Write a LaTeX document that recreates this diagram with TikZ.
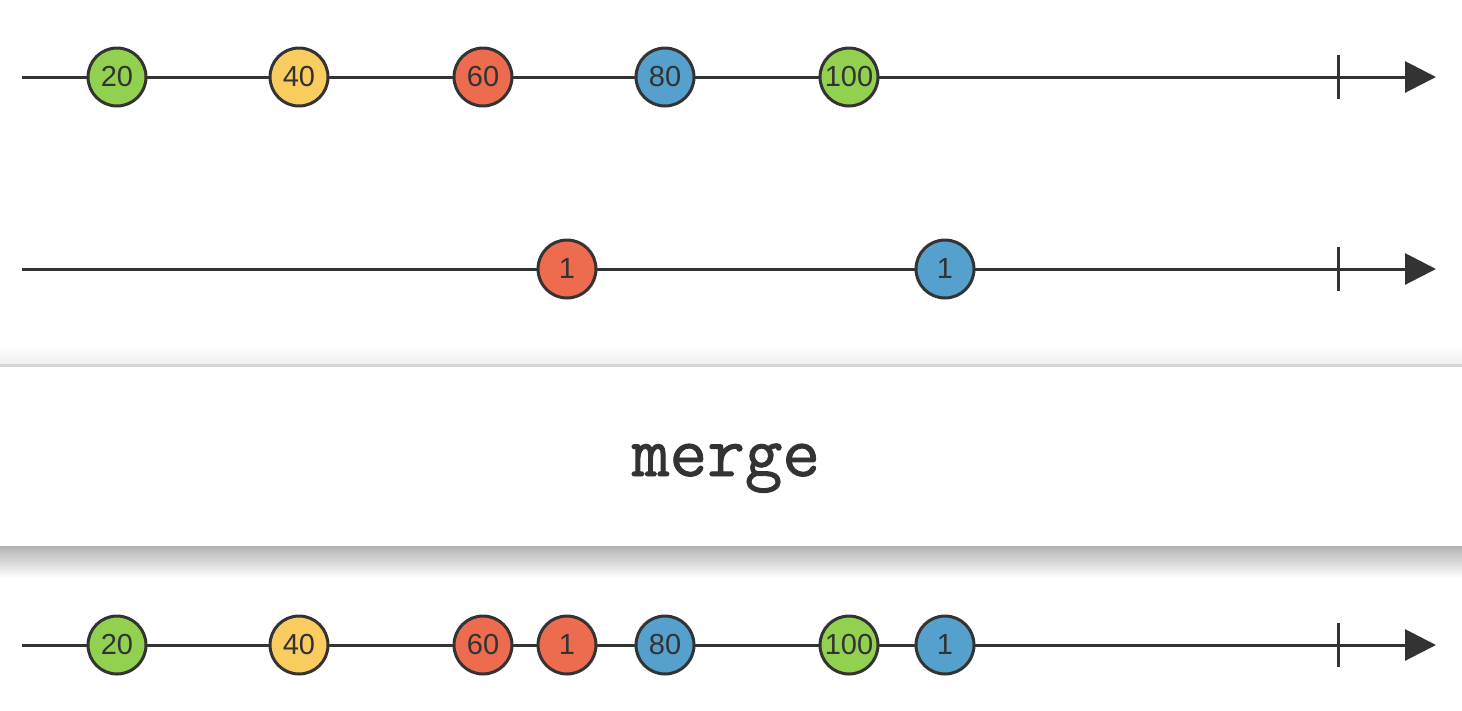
\documentclass[tikz,border=0pt]{standalone}
\usepackage{fontspec}
\setmainfont{Liberation Sans}
\newfontfamily\monofont{Latin Modern Mono}[FakeBold=1.2]
\usetikzlibrary{arrows.meta}
\definecolor{mgreen}{RGB}{146,208,80}
\definecolor{myellow}{RGB}{249,204,96}
\definecolor{mred}{RGB}{237,108,80}
\definecolor{mblue}{RGB}{85,160,204}
\definecolor{ink}{RGB}{51,51,51}
\tikzset{
  marble/.style={circle,draw=ink,line width=3pt,minimum size=58pt,inner sep=0pt,text=ink,font=\fontsize{29}{29}\selectfont},
  timeline/.style={draw=ink,line width=3pt,-{Triangle[length=31pt,width=31pt]}},
  tick/.style={draw=ink,line width=3pt}
}
\begin{document}
\begin{tikzpicture}[x=1pt,y=-1pt]
\useasboundingbox (0,0) rectangle (1462,710);
\fill[white] (0,0) rectangle (1462,710);
% operator box with shadows
\shade[top color=white,bottom color=black!6] (0,345) rectangle (1462,365);
\fill[black!16] (0,364) rectangle (1462,366.5);
\shade[top color=black!30,bottom color=white] (0,546) rectangle (1462,578);
\fill[white] (0,366.5) rectangle (1462,546);
\node[text=ink,font=\monofont\fontsize{73}{73}\selectfont,anchor=base,inner sep=0pt] (op) at (726,476) {merge};
% timelines
\foreach \r/\y in {a/77,b/269,c/645}{
  \coordinate (\r s) at (22,\y);
  \coordinate (\r e) at (1436,\y);
  \coordinate (\r t1) at (1338,\y-22);
  \coordinate (\r t2) at (1338,\y+22);
  \draw[timeline] (\r s) -- (\r e);
  \draw[tick] (\r t1) -- (\r t2);
}
% row 1
\node[marble,fill=mgreen] (a1) at (117,77) {20};
\node[marble,fill=myellow] (a2) at (299,77) {40};
\node[marble,fill=mred] (a3) at (483,77) {60};
\node[marble,fill=mblue] (a4) at (665,77) {80};
\node[marble,fill=mgreen] (a5) at (849,77) {100};
% row 2
\node[marble,fill=mred] (b1) at (567,269) {1};
\node[marble,fill=mblue] (b2) at (945,269) {1};
% output
\node[marble,fill=mgreen] (c1) at (117,645) {20};
\node[marble,fill=myellow] (c2) at (299,645) {40};
\node[marble,fill=mred] (c3) at (483,645) {60};
\node[marble,fill=mred] (c4) at (567,645) {1};
\node[marble,fill=mblue] (c5) at (665,645) {80};
\node[marble,fill=mgreen] (c6) at (849,645) {100};
\node[marble,fill=mblue] (c7) at (945,645) {1};
\end{tikzpicture}
\end{document}
